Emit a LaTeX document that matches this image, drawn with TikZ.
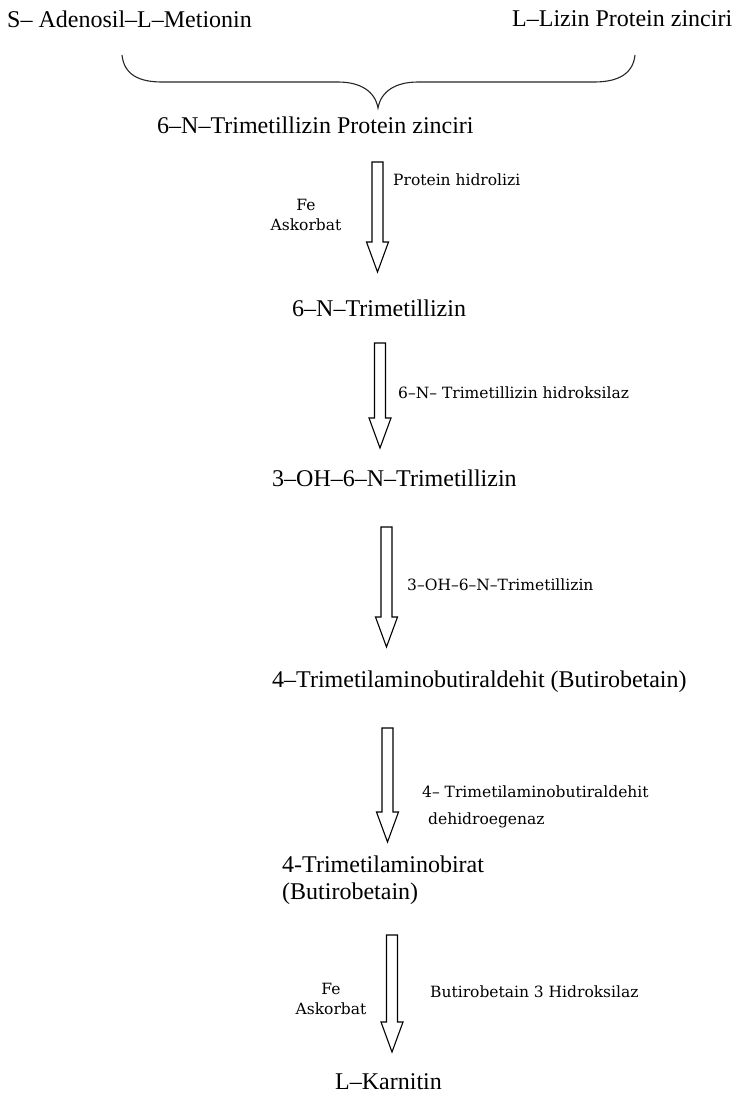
\documentclass[tikz,border=0pt]{standalone}
\usepackage{fontspec}
\setmainfont{Liberation Serif}
\newfontfamily\enzfont{DejaVu Serif}
\usepackage{tikz}
\usetikzlibrary{calc}

\tikzset{
    compound/.style={font=\fontsize{24}{27}\selectfont, inner sep=0pt, anchor=west},
    enzyme/.style={font=\enzfont\fontsize{15.5}{20}\selectfont, inner sep=0pt, anchor=west},
    hollow/.style={draw, line width=1.1pt, line join=miter},
}

\begin{document}
\begin{tikzpicture}[x=1pt, y=-1pt]
    \useasboundingbox (0,0) rectangle (738,1104);

    % substrates and the brace
    \node [compound] (sam) at (7,19) {S– Adenosil–L–Metionin};
    \node [compound] (lizin) at (512,19) {L–Lizin Protein zinciri};
    \draw [line width=1.1pt, black!85] (122,55) .. controls (124,74) and (138,82) .. (162,82) -- (338,82)
        .. controls (360,82) and (375,91) .. (378,108) .. controls (381,91) and (396,82) .. (418,82)
        -- (594,82) .. controls (618,82) and (633,74) .. (635,55);

    % compounds
    \node [compound] (tmlprot) at (157,125) {6–N–Trimetillizin Protein zinciri};
    \node [compound] (tml) at (292,308) {6–N–Trimetillizin};
    \node [compound] (ohtml) at (272,478) {3–OH–6–N–Trimetillizin};
    \node [compound] (tmabald) at (272,682) {4–Trimetilaminobutiraldehit (Butirobetain)};
    \node [compound, align=left] (tmab) at (282,880) {4-Trimetilaminobirat\\(Butirobetain)};
    \node [compound] (karnitin) at (335,1082) {L–Karnitin};

    % enzymes and cofactors
    \node [enzyme] (hidroliz) at (393,180) {Protein hidrolizi};
    \node [enzyme, anchor=center, align=center] (fea) at (306,215) {Fe\\Askorbat};
    \node [enzyme] (hidroksilaz) at (398,393) {6–N– Trimetillizin hidroksilaz};
    \node [enzyme] (ohenz) at (407,585) {3–OH–6–N–Trimetillizin};
    \node [enzyme] (dehidroa) at (422,792) {4– Trimetilaminobutiraldehit};
    \node [enzyme] (dehidrob) at (428,820) {dehidroegenaz};
    \node [enzyme, anchor=center, align=center] (feb) at (331,999) {Fe\\Askorbat};
    \node [enzyme] (bbh) at (430,992) {Butirobetain 3 Hidroksilaz};

    % hollow arrows
    \coordinate (a1s) at (377.5,162);  \coordinate (a1e) at (377.5,272);
    \coordinate (a2s) at (380,343);    \coordinate (a2e) at (380,448);
    \coordinate (a3s) at (386.5,527);  \coordinate (a3e) at (386.5,647);
    \coordinate (a4s) at (387.5,728);  \coordinate (a4e) at (387.5,842);
    \coordinate (a5s) at (392,935);    \coordinate (a5e) at (392,1052);
    \foreach \s/\e in {a1s/a1e, a2s/a2e, a3s/a3e, a4s/a4e, a5s/a5e}
        \draw [hollow] ($(\s)+(-5.5,0)$) -- ($(\s)+(5.5,0)$) -- ($(\e)+(5.5,-30)$) -- ($(\e)+(11,-30)$)
            -- (\e) -- ($(\e)+(-11,-30)$) -- ($(\e)+(-5.5,-30)$) -- cycle;
\end{tikzpicture}
\end{document}
